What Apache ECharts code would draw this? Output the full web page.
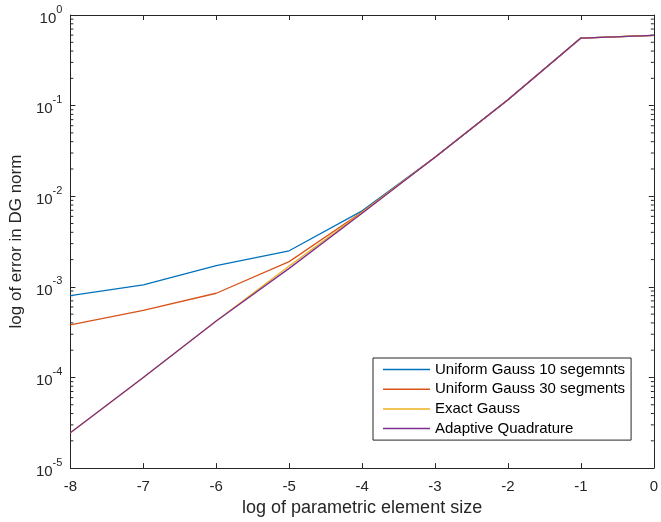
<!DOCTYPE html>
<html>
<head>
<meta charset="utf-8">
<script src="https://cdn.jsdelivr.net/npm/echarts@6/dist/echarts.min.js"></script>
<style>html,body{margin:0;padding:0;background:#fff}#c{width:661px;height:522px}</style>
</head>
<body>
<div id="c"></div>
<script>
var xValues = [-8, -7, -6, -5, -4, -3, -2, -1, 0];
var uniform10 = [8.0e-4, 1.05e-3, 1.72e-3, 2.5e-3, 6.9e-3, 0.027, 0.116, 0.557, 0.595];
var uniform30 = [3.8e-4, 5.5e-4, 8.5e-4, 1.9e-3, 6.7e-3, 0.027, 0.116, 0.557, 0.595];
var exactGauss = [2.45e-5, 1.0e-4, 4.2e-4, 1.7e-3, 6.6e-3, 0.027, 0.116, 0.557, 0.595];
var adaptive = [2.45e-5, 1.0e-4, 4.2e-4, 1.6e-3, 6.5e-3, 0.027, 0.116, 0.557, 0.595];
var seriesNames = ['Uniform Gauss 10 segemnts', 'Uniform Gauss 30 segments', 'Exact Gauss', 'Adaptive Quadrature'];
var seriesColors = ['#0072BD', '#D95319', '#EDB120', '#7E2F8E'];
var xTitle = 'log of parametric element size';
var yTitle = 'log of error in DG norm';

var FONT = 'Liberation Sans, Arial, Helvetica, sans-serif';
var AX = '#262626';
function pairs(ys){ return xValues.map(function(x,i){ return [x, ys[i]]; }); }
var allData = [uniform10, uniform30, exactGauss, adaptive];

var chart = echarts.init(document.getElementById('c'), null, {renderer:'canvas'});
var axisCommon = {
  axisLine:{show:true, onZero:false, lineStyle:{color:AX, width:1}},
  axisTick:{show:true, inside:true, length:5, lineStyle:{color:AX, width:1}},
  splitLine:{show:false}
};
function ylab(v){
  var e = Math.round(Math.log10(v));
  return '{b|10}{s|' + e + '}';
}
var option = {
  animation:false,
  backgroundColor:'#fff',
  grid:{left:68, right:4, top:15, bottom:48, containLabel:false},
  xAxis:[
    Object.assign({type:'value', min:-8, max:0, interval:1, position:'bottom',
      name:xTitle, nameLocation:'middle', nameGap:30,
      nameTextStyle:{fontFamily:FONT, fontSize:18, color:AX},
      axisLabel:{fontFamily:FONT, fontSize:15, color:AX, margin:11}}, axisCommon),
    Object.assign({type:'value', min:-8, max:0, interval:1, position:'top',
      axisLabel:{show:false}}, axisCommon)
  ],
  yAxis:[
    Object.assign({type:'log', logBase:10, min:1e-5, max:1, position:'left',
      name:yTitle, nameLocation:'middle', nameGap:42, nameRotate:90,
      nameTextStyle:{fontFamily:FONT, fontSize:17, color:AX},
      axisLabel:{formatter:ylab, margin:8, rich:{
        b:{fontFamily:FONT, fontSize:15, color:AX, verticalAlign:'bottom', lineHeight:22},
        s:{fontFamily:FONT, fontSize:11, color:AX, verticalAlign:'top', lineHeight:22}
      }}}, axisCommon),
    Object.assign({type:'log', logBase:10, min:1e-5, max:1, position:'right',
      axisLabel:{show:false}}, axisCommon)
  ],
  legend:{
    left:373, top:358, orient:'vertical',
    backgroundColor:'#fff', borderColor:AX, borderWidth:1, borderRadius:0,
    padding:[4,6,4,10], itemGap:4.7,
    icon:'rect', itemWidth:47, itemHeight:1.5,
    textStyle:{fontFamily:FONT, fontSize:15, color:'#000', lineHeight:15},
    data:seriesNames
  },
  series: allData.map(function(d,i){
    return {name:seriesNames[i], type:'line', data:pairs(d), showSymbol:false, symbol:'none',
      lineStyle:{color:seriesColors[i], width:1.3}, itemStyle:{color:seriesColors[i]}, z:2+i};
  })
};
chart.setOption(option);

// minor ticks on log axes (2..9 per decade), positioned through the axis scale
var g = [];
var pl = chart.convertToPixel({xAxisIndex:0}, -8);
var pr = chart.convertToPixel({xAxisIndex:0}, 0);
for (var e=-5; e<0; e++){
  for (var m=2; m<=9; m++){
    var v = m*Math.pow(10,e);
    var py = chart.convertToPixel({yAxisIndex:0}, v);
    g.push({type:'line', shape:{x1:pl, y1:py, x2:pl+3, y2:py}, style:{stroke:AX, lineWidth:1}, silent:true});
    g.push({type:'line', shape:{x1:pr, y1:py, x2:pr-3, y2:py}, style:{stroke:AX, lineWidth:1}, silent:true});
  }
}
chart.setOption({graphic:g});
</script>
</body>
</html>
